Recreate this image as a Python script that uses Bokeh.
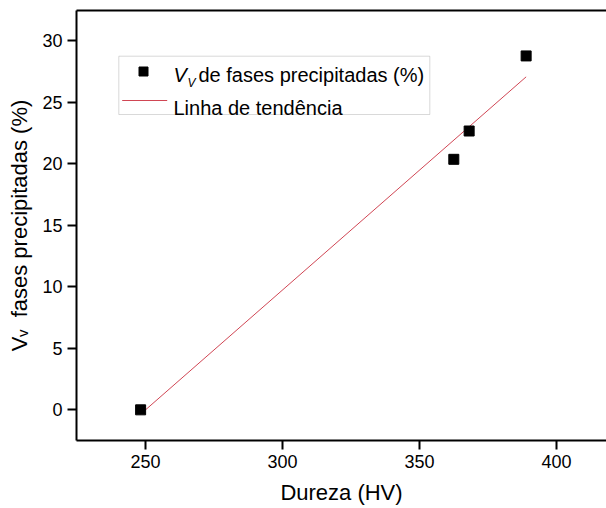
from bokeh.plotting import figure
from bokeh.models import Label, BoxAnnotation, LinearAxis, FixedTicker, Range1d
from bokeh.embed import file_html
from bokeh.resources import INLINE

# ---- data ----
hardness = [248.2, 362.5, 368.1, 388.9]          # Dureza (HV)
vv_percent = [0.0, 20.35, 22.65, 28.75]          # V_V de fases precipitadas (%)
trend_x = [248.2, 388.9]                          # Linha de tendência endpoints
trend_y = [-0.35, 27.05]
x_ticks = [250, 300, 350, 400]
y_ticks = [0, 5, 10, 15, 20, 25, 30]

# ---- layout (pixel geometry of the frame) ----
FL, FT, FW, FH = 76, 10, 530, 430
X0, X1 = 224.8, 224.8 + FW / 2.74
Y1 = 32.44
Y0 = Y1 - FH / 12.31

def dx(px):
    return X0 + (px - FL) * (X1 - X0) / FW

def dy(py):
    return Y1 - (py - FT) * (Y1 - Y0) / FH

FONT = "Liberation Sans"
RED = "#d04654"

p = figure(frame_width=FW, frame_height=FH, output_backend="svg", toolbar_location=None,
           x_range=Range1d(X0, X1), y_range=Range1d(Y0, Y1),
           min_border_left=FL, min_border_right=0, min_border_top=FT, min_border_bottom=68,
           background_fill_color="white", border_fill_color="white")
p.outline_line_color = None
p.xgrid.visible = False
p.ygrid.visible = False

for ax in (p.xaxis[0], p.yaxis[0]):
    ax.axis_line_width = 2
    ax.axis_line_color = "black"
    ax.major_tick_line_width = 2
    ax.major_tick_line_color = "black"
    ax.major_tick_out = 9
    ax.major_tick_in = 0
    ax.minor_tick_line_color = None
    ax.major_label_text_font = FONT
    ax.major_label_text_font_size = "18px"
    ax.major_label_text_color = "black"
    ax.axis_label_text_font = FONT
    ax.axis_label_text_font_size = "22px"
    ax.axis_label_text_font_style = "normal"
    ax.axis_label_text_color = "black"

p.xaxis.ticker = FixedTicker(ticks=x_ticks)
p.yaxis.ticker = FixedTicker(ticks=y_ticks)
p.xaxis.major_label_standoff = 5
p.yaxis.major_label_standoff = 5
p.xaxis.axis_label = "Dureza (HV)"
p.xaxis.axis_label_standoff = 9
p.yaxis.axis_label = "V\u1d65\u00a0\u00a0fases precipitadas (%)"
p.yaxis.axis_label_standoff = 7

top = LinearAxis(ticker=FixedTicker(ticks=[]), axis_line_width=2, axis_line_color="black",
                 major_tick_line_color=None, minor_tick_line_color=None,
                 major_label_text_font_size="0px")
p.add_layout(top, "above")

# data
p.line(trend_x, trend_y, line_color=RED, line_width=1)
p.scatter(hardness, vv_percent, marker="square", size=10, fill_color="black", line_color="black")

# legend (manual, to allow the subscript)
box = BoxAnnotation(left=dx(118.3), right=dx(429.3), top=dy(55.7), bottom=dy(114),
                    fill_color="white", fill_alpha=1, line_color="#808080", line_width=1,
                    level="underlay")
p.add_layout(box)
p.scatter([dx(143)], [dy(71)], marker="square", size=9, fill_color="black", line_color="black")
p.line([dx(121.7), dx(166.7)], [dy(100), dy(100)], line_color=RED, line_width=1)

def lab(text, px, py, size, style="normal"):
    p.add_layout(Label(x=dx(px), y=dy(py), text=text, text_font=FONT, text_font_size=size,
                       text_font_style=style, text_color="black", text_align="left",
                       text_baseline="alphabetic"))

lab("V", 173, 74, "20px", "italic")
lab("V", 187, 82, "12px", "italic")
lab("de fases precipitadas (%)", 198, 74, "20px")
lab("Linha de tendência", 173, 107, "20px")

open("out.html", "w").write(file_html(p, INLINE))
